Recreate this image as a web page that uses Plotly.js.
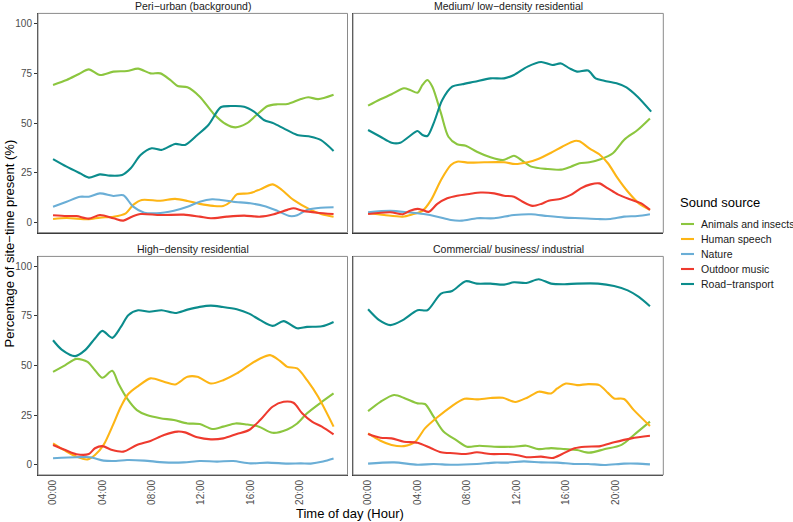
<!DOCTYPE html>
<html>
<head>
<meta charset="utf-8">
<script src="https://cdn.plot.ly/plotly-3.0.1.min.js"></script>
<style>html,body{margin:0;padding:0;background:#fff;}#chart{width:793px;height:522px;}</style>
</head>
<body>
<div id="chart"></div>
<script>
// ---------- categories / labels ----------
const sources = ["Animals and insects", "Human speech", "Nature", "Outdoor music", "Road\u2212transport"];
const facets = ["Peri\u2212urban (background)", "Medium/ low\u2212density residential", "High\u2212density residential", "Commercial/ business/ industrial"];
const tickHours = [0, 4, 8, 12, 16, 20];
const tickLabels = ["00:00", "04:00", "08:00", "12:00", "16:00", "20:00"];
const yTicks = [0, 25, 50, 75, 100];

// ---------- Peri-urban (background) ----------
const peri_animals_h = [0,1.1,2.1,2.9,3.8,4.9,6.0,6.9,7.9,8.7,9.5,10.1,10.9,11.9,13.0,14.0,14.8,15.7,16.5,17.4,18.2,19.0,20.1,20.7,21.5,22.75];
const peri_animals_v = [69.1,71.6,74.6,76.9,74.1,75.8,76.1,77.3,74.9,74.9,71.6,68.6,67.9,63.2,54.8,49.5,47.8,49.8,54.0,58.5,59.4,59.5,62.0,62.9,62.0,64.2];
const peri_speech_h = [0,1.1,2.9,3.8,4.9,5.9,6.5,7.2,8.7,9.9,10.9,11.9,13.0,13.8,14.4,14.9,15.9,16.8,17.8,18.4,19.5,20.9,21.8,22.75];
const peri_speech_v = [1.8,2.3,1.7,2.5,3.0,4.7,8.9,11.4,11.0,11.9,10.9,9.4,8.4,8.4,10.5,14.2,14.7,16.7,19.2,17.2,11.4,6.4,4.2,3.0];
const peri_nature_h = [0,1.1,2.2,2.9,3.8,4.9,5.7,6.5,7.4,8.4,9.8,10.9,11.9,12.9,13.6,14.6,16.0,17.1,18.2,19.2,19.8,20.6,21.7,22.75];
const peri_nature_v = [8.0,10.5,13.0,13.0,14.7,13.4,13.7,8.0,5.0,4.7,6.0,8.0,10.5,11.7,11.4,10.5,9.7,8.4,5.9,3.3,3.7,6.4,7.5,7.7];
const peri_music_h = [0,1.1,1.9,2.9,3.8,4.9,5.7,6.4,7.1,8.7,10.6,11.9,12.8,14.1,15.5,16.8,17.9,19.0,19.5,20.3,21.4,22.75];
const peri_music_v = [3.7,3.3,3.3,2.0,3.8,2.2,1.0,3.0,4.3,3.8,4.0,3.0,2.2,3.0,3.5,3.0,4.2,6.4,7.2,5.9,5.0,4.3];
const peri_road_h = [0,1.1,2.2,2.9,3.8,4.6,5.6,6.3,7.1,8.0,8.8,9.9,10.7,11.7,12.6,13.6,14.4,15.5,16.3,17.1,17.9,18.7,19.8,20.9,21.7,22.75];
const peri_road_v = [31.9,28.1,24.7,22.6,24.2,23.6,23.9,27.3,33.9,37.3,36.5,39.5,39.0,44.0,49.0,57.9,58.5,58.2,55.7,51.5,49.8,47.3,44.0,43.1,41.5,36.0];

// ---------- Medium/ low-density residential ----------
const med_animals_h = [0,1.0,1.9,2.9,3.4,4.0,4.4,4.8,5.2,5.9,6.5,7.2,7.9,8.8,9.9,10.9,11.3,11.8,12.4,13.2,14.5,15.6,16.4,17.1,17.9,18.8,19.8,20.7,21.8,22.8];
const med_animals_v = [58.7,61.9,64.4,67.4,66.6,65.2,69.1,71.6,68.2,54.8,43.1,39.3,38.6,35.6,32.8,31.4,32.3,33.6,31.4,28.1,26.9,26.6,28.1,29.8,30.3,31.8,34.8,41.5,46.5,52.3];
const med_speech_h = [0,1.3,2.8,3.6,4.4,5.1,5.9,6.7,7.2,8.2,9.4,11.0,11.9,12.9,13.7,14.8,15.7,16.7,17.1,17.9,18.7,19.4,20.2,21.0,21.9,22.8];
const med_speech_v = [4.7,3.8,3.0,4.2,5.9,11.4,21.4,28.9,30.6,30.1,30.3,30.3,29.4,30.3,31.8,35.1,38.1,41.0,40.8,37.3,34.3,29.8,22.2,15.6,9.7,6.4];
const med_nature_h = [0,1.8,3.2,4.5,5.6,6.7,7.6,8.8,10.2,11.8,13.2,14.5,15.9,17.2,18.6,19.6,20.7,21.8,22.8];
const med_nature_v = [5.2,5.9,5.2,4.3,3.0,1.3,1.0,2.2,2.2,3.8,4.2,3.3,2.5,2.2,1.8,1.8,3.0,3.3,4.2];
const med_music_h = [0,1.8,2.8,3.4,4.0,4.4,4.9,5.6,6.4,7.2,8.2,9.1,10.2,11.0,11.8,12.5,13.3,14.0,14.6,15.6,16.4,17.2,18.0,18.7,19.4,20.2,21.1,22.1,22.8];
const med_music_v = [4.3,5.2,4.2,6.0,6.9,6.4,5.4,9.4,12.2,13.5,14.4,15.1,14.7,13.5,13.0,10.5,8.4,9.4,11.0,12.0,13.9,17.2,19.2,19.7,17.2,14.2,11.9,9.7,6.4];
const med_road_h = [0,1.0,1.9,2.6,3.3,4.0,4.4,4.8,5.3,6.0,6.8,7.6,8.6,9.9,11.0,11.8,12.9,14.0,14.9,15.6,16.3,16.9,17.8,18.4,19.1,20.1,20.9,21.8,22.9];
const med_road_v = [46.5,43.1,40.1,40.1,43.1,46.0,44.0,43.5,49.8,61.5,68.2,69.4,70.7,72.4,72.4,74.1,78.3,80.6,79.1,79.9,77.4,75.8,76.3,72.4,71.2,69.9,67.9,63.2,55.7];

// ---------- High-density residential ----------
const high_animals_h = [0,1.0,1.9,2.8,3.4,4.0,4.8,5.3,6.0,6.8,7.6,8.7,9.8,10.9,11.9,12.9,13.8,14.8,15.7,16.7,17.8,19.0,19.8,20.6,21.7,22.75];
const high_animals_v = [46.9,50.3,53.4,51.9,47.7,43.9,47.4,41.0,33.5,27.6,25.1,23.5,22.6,20.9,20.6,18.1,19.3,20.9,20.4,19.3,16.2,17.9,20.9,26.0,31.3,36.0];
const high_speech_h = [0,0.9,1.9,2.8,3.4,4.1,4.8,5.5,6.1,6.9,7.9,9.0,9.9,10.9,11.7,12.8,13.8,14.9,15.9,16.8,17.6,18.4,19.0,19.8,20.6,21.5,22.75];
const high_speech_v = [10.9,7.5,4.2,2.8,5.0,10.1,19.3,29.3,35.7,39.7,43.6,41.9,40.5,44.4,44.4,41.0,42.7,46.1,50.3,53.6,55.3,52.4,49.4,48.6,42.7,34.3,19.3];
const high_nature_h = [0,1.9,3.0,4.1,5.1,6.0,7.4,9.0,10.6,11.9,13.3,14.6,16.0,17.4,19.0,20.1,20.9,21.9,22.75];
const high_nature_v = [3.4,3.9,3.9,2.2,2.0,2.5,2.2,1.3,1.3,2.0,1.7,2.0,0.8,1.2,0.7,0.8,0.7,1.7,3.2];
const high_music_h = [0,1.0,1.9,2.9,3.4,4.0,4.8,5.7,6.8,7.9,9.0,10.1,10.7,11.7,12.8,13.8,14.9,15.9,16.8,17.8,18.7,19.5,20.2,21.0,21.8,22.75];
const high_music_v = [10.1,7.5,5.4,5.5,8.4,9.5,7.5,6.7,10.1,12.1,15.1,16.8,16.4,13.9,12.9,13.4,15.6,17.6,22.6,29.3,31.8,31.3,26.0,21.8,19.3,15.4];
const high_road_h = [0,0.7,1.8,2.6,3.4,4.0,4.8,5.5,6.1,6.9,7.8,8.8,9.9,10.9,11.9,12.8,13.7,14.9,15.9,16.8,17.8,18.7,19.8,20.6,21.8,22.75];
const high_road_v = [62.8,58.1,54.8,57.8,63.7,67.5,64.0,69.5,75.4,77.9,77.1,77.9,76.5,78.2,79.6,80.2,79.6,78.4,76.2,72.9,70.0,72.4,68.8,69.5,69.8,72.0];

// ---------- Commercial/ business/ industrial ----------
const com_animals_h = [0,1.0,2.1,3.0,4.0,4.6,5.3,6.1,7.1,8.0,9.0,10.2,11.8,12.8,13.8,14.8,15.9,16.9,17.9,19.1,20.5,21.5,22.8];
const com_animals_v = [27.1,31.8,35.2,33.5,31.0,30.7,24.3,16.8,12.6,9.2,9.7,9.2,9.2,9.7,8.0,8.5,8.0,7.5,6.2,7.9,10.1,15.1,21.8];
const com_speech_h = [0,1.0,1.9,2.9,3.8,4.6,5.6,6.7,7.8,8.8,9.9,10.9,11.9,12.9,13.8,14.8,15.3,16.0,16.9,17.8,18.7,19.4,19.9,20.7,21.5,22.8];
const com_speech_v = [15.9,12.2,10.1,9.5,11.6,18.4,24.0,29.3,33.3,33.0,33.7,33.8,31.7,34.0,36.9,36.0,38.5,41.0,40.2,40.7,40.2,36.3,33.5,33.2,27.6,19.6];
const com_nature_h = [0,2.1,4.0,5.3,6.7,8.8,10.2,11.3,12.6,14.0,15.3,16.7,17.8,19.1,20.7,21.8,22.8];
const com_nature_v = [0.7,1.3,0.1,0.5,0.1,0.5,1.2,1.2,1.8,1.3,1.2,0.5,0.5,0.0,0.7,0.7,0.3];
const com_music_h = [0,1.0,1.9,2.9,4.0,5.1,5.9,6.9,7.9,8.8,9.9,11.3,12.1,12.8,14.0,14.9,15.7,16.7,17.6,18.8,19.9,21.3,22.8];
const com_music_v = [15.6,13.7,13.4,11.7,11.2,8.4,6.4,5.9,5.5,6.4,5.5,5.5,4.9,3.9,4.2,3.5,5.5,8.4,9.2,9.5,11.4,13.4,14.7];
const com_road_h = [0,0.9,1.8,2.8,4.0,4.8,5.9,6.8,7.9,8.8,9.9,11.0,11.8,12.8,13.8,14.8,15.9,16.9,18.6,19.9,21.0,21.9,22.8];
const com_road_v = [78.4,72.9,70.4,72.9,77.9,77.9,86.3,87.6,92.5,91.3,91.3,90.8,92.0,91.6,93.5,91.3,91.0,91.3,91.3,90.1,87.9,84.6,79.9];

const colors = ["#8CC63F", "#FDB515", "#6AAED6", "#EE3A2E", "#0B8C8C"];

const panelSeries = [
  [[peri_animals_h, peri_animals_v], [peri_speech_h, peri_speech_v], [peri_nature_h, peri_nature_v], [peri_music_h, peri_music_v], [peri_road_h, peri_road_v]],
  [[med_animals_h, med_animals_v], [med_speech_h, med_speech_v], [med_nature_h, med_nature_v], [med_music_h, med_music_v], [med_road_h, med_road_v]],
  [[high_animals_h, high_animals_v], [high_speech_h, high_speech_v], [high_nature_h, high_nature_v], [high_music_h, high_music_v], [high_road_h, high_road_v]],
  [[com_animals_h, com_animals_v], [com_speech_h, com_speech_v], [com_nature_h, com_nature_v], [com_music_h, com_music_v], [com_road_h, com_road_v]]
];

// ---------- layout geometry (pixels of the 793x522 page) ----------
const W = 793, H = 522;
const colPx = [[38, 347.5], [353, 663.3]];
const rowPx = [[13.4, 232.6], [256.4, 474.9]]; // top, bottom
const font = "Liberation Sans, Arial, Helvetica, sans-serif";

const traces = [];
const layout = {
  width: W, height: H,
  margin: {l: 0, r: 0, t: 0, b: 0},
  paper_bgcolor: "#ffffff", plot_bgcolor: "#ffffff",
  showlegend: false,
  font: {family: font, color: "#000"},
  shapes: [], annotations: []
};

for (let p = 0; p < 4; p++) {
  const r = Math.floor(p / 2), c = p % 2;
  const idx = p === 0 ? "" : String(p + 1);
  const xa = "xaxis" + idx, ya = "yaxis" + idx;
  const xr = "x" + idx, yr = "y" + idx;
  layout[xa] = {
    domain: [colPx[c][0] / W, colPx[c][1] / W],
    anchor: yr, range: [-1.22, 23.88],
    showgrid: false, zeroline: false,
    showline: true, linecolor: "#333", linewidth: 1,
    tickmode: "array", tickvals: tickHours, ticktext: tickLabels,
    ticks: "", tickangle: -90, ticklabelstandoff: 0,
    showticklabels: r === 1,
    tickfont: {family: font, size: 10, color: "#4d4d4d"}
  };
  layout[ya] = {
    domain: [1 - rowPx[r][1] / H, 1 - rowPx[r][0] / H],
    anchor: xr, range: [-5, 105],
    showgrid: false, zeroline: false,
    showline: true, linecolor: "#333", linewidth: 1,
    tickmode: "array", tickvals: yTicks,
    ticks: c === 0 ? "outside" : "", ticklen: 3, tickcolor: "#333",
    showticklabels: c === 0,
    tickfont: {family: font, size: 10, color: "#4d4d4d"}
  };
  layout.shapes.push({type: "rect", xref: xr + " domain", yref: yr + " domain", x0: 0, x1: 1, y0: 0, y1: 1,
    line: {color: "#8a8a8a", width: 1}, fillcolor: "rgba(0,0,0,0)", layer: "above"});
  layout.annotations.push({text: facets[p], xref: "paper", yref: "paper",
    x: (colPx[c][0] + colPx[c][1]) / 2 / W, y: 1 - (rowPx[r][0] - 7.5) / H,
    xanchor: "center", yanchor: "middle", showarrow: false,
    font: {family: font, size: 10.5, color: "#1a1a1a"}});
  panelSeries[p].forEach((s, k) => {
    traces.push({x: s[0], y: s[1], xaxis: xr, yaxis: yr, type: "scatter", mode: "lines",
      name: sources[k], line: {color: colors[k], width: 2.1, shape: "spline", smoothing: 0.8},
      hoverinfo: "skip"});
  });
}

// axis titles
layout.annotations.push({text: "Time of day (Hour)", xref: "paper", yref: "paper",
  x: 350 / W, y: 1 - 513 / H, xanchor: "center", yanchor: "middle", showarrow: false,
  font: {family: font, size: 13, color: "#000"}});
layout.annotations.push({text: "Percentage of site\u2212time present (%)", xref: "paper", yref: "paper",
  x: 9.5 / W, y: 1 - 244 / H, xanchor: "center", yanchor: "middle", textangle: -90, showarrow: false,
  font: {family: font, size: 13, color: "#000"}});

// legend (drawn manually, ggplot style)
layout.annotations.push({text: "Sound source", xref: "paper", yref: "paper",
  x: 678 / W, y: 1 - 203 / H, xanchor: "left", yanchor: "middle", showarrow: false,
  font: {family: font, size: 13, color: "#000"}});
sources.forEach((name, k) => {
  const yy = 224 + k * 15;
  layout.shapes.push({type: "line", xref: "paper", yref: "paper",
    x0: 681 / W, x1: 694 / W, y0: 1 - yy / H, y1: 1 - yy / H,
    line: {color: colors[k], width: 2.1}});
  layout.annotations.push({text: name, xref: "paper", yref: "paper",
    x: 699 / W, y: 1 - yy / H, xanchor: "left", yanchor: "middle", showarrow: false,
    font: {family: font, size: 10.5, color: "#1a1a1a"}});
});

Plotly.newPlot("chart", traces, layout, {staticPlot: true, displayModeBar: false});
</script>
</body>
</html>
